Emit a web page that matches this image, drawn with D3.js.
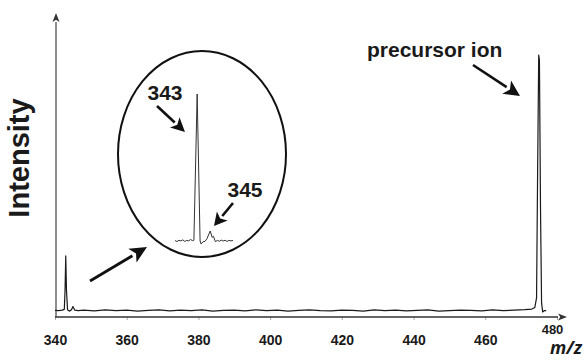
<!DOCTYPE html>
<html>
<head>
<meta charset="utf-8">
<script src="https://cdn.jsdelivr.net/npm/d3@7"></script>
<style>
  body { margin: 0; background: #fff; }
  svg { display: block; }
</style>
</head>
<body>
<div id="chart"></div>
<script>
var svgWidth = 586;
var svgHeight = 360;

// main spectrum (relative intensity, precursor = 100)
var mainMz = [340.0, 341.0, 342.0, 342.6, 342.8, 343.0, 343.2, 343.5, 344.0, 344.6, 345.0, 345.5, 346.5,
  348, 351, 354, 357, 360, 363, 366, 369, 372, 375, 378, 381, 384, 387, 390, 393, 396, 399,
  402, 405, 408, 411, 414, 417, 420, 423, 426, 429, 432, 435, 438, 441, 444, 447, 450, 453,
  456, 459, 462, 465, 468, 471, 473.0, 473.8, 474.3, 474.6, 474.9, 475.1, 475.4, 475.7, 476.0, 476.5, 477.0];
var mainInt = [0.1, 0.0, 0.2, 0.5, 8, 21.4, 8, 0.3, -0.2, 0.3, 1.6, 0.2, 0.0,
  0.2, -0.1, 0.3, 0.0, 0.2, -0.2, 0.1, 0.3, -0.1, 0.2, 0.0, 0.3, -0.2, 0.1, 0.2, -0.1, 0.3, 0.0,
  0.2, -0.2, 0.1, 0.3, 0.0, -0.1, 0.2, 0.1, -0.2, 0.3, 0.0, 0.2, -0.1, 0.1, 0.3, -0.2, 0.0, 0.2,
  0.1, -0.1, 0.3, 0.0, 0.2, 0.4, 0.6, 1.2, 5, 55, 100, 98, 40, 3, -0.5, 0.0, 0.0];

// zoomed inset around 343 / 345
var insetMz = [339.6, 339.9, 340.2, 340.5, 340.8, 341.1, 341.4, 341.7, 342.0, 342.3, 342.5, 343.0, 343.45,
  343.6, 343.9, 344.2, 344.5, 345.0, 345.3, 345.5, 345.8, 346.1, 346.4, 346.7, 347.0, 347.3, 347.6, 347.9, 348.2, 348.5];
var insetInt = [0.3, -0.4, 0.5, 0.0, 0.8, -0.3, 0.4, 0.1, 1.0, 0.2, 0.5, 100, 0.0,
  -2.0, -0.5, -0.3, 1.5, 6.8, 2.5, 3.2, -0.5, 0.4, -0.2, 0.6, 0.0, 0.5, -0.3, 0.4, 0.1, 0.3];

var tickVals = [340, 360, 380, 400, 420, 440, 460, 480];

var mainData = mainMz.map((m, i) => ({mz: m, v: mainInt[i]}));
var insetData = insetMz.map((m, i) => ({mz: m, v: insetInt[i]}));

var svg = d3.select("#chart")
  .append("svg")
  .attr("width", svgWidth)
  .attr("height", svgHeight);

var x = d3.scaleLinear().domain([340, 480]).range([55, 557]);
var y = d3.scaleLinear().domain([-2.5, 100]).range([317, 55]);

// axes
var xAxis = svg.append("g")
  .attr("transform", `translate(0, ${y.range()[0]})`)
  .call(d3.axisBottom(x).tickValues(tickVals).tickSize(3).tickPadding(15).tickFormat(d3.format("d")));
xAxis.select(".domain").remove();
xAxis.selectAll(".tick line").attr("stroke", "#aaa");
xAxis.selectAll(".tick text")
  .style("font", "bold 14px 'Liberation Sans', Arial, sans-serif")
  .attr("fill", "#1a1a1a");
xAxis.selectAll(".tick text").filter(d => d === 480)
  .style("font-size", "13px")
  .attr("dx", -5).attr("dy", "-0.05em");

function arrow(x1, y1, x2, y2, len, half, sw, col) {
  var a = Math.atan2(y2 - y1, x2 - x1);
  var bx = x2 - len * Math.cos(a), by = y2 - len * Math.sin(a);
  svg.append("line")
    .attr("x1", x1).attr("y1", y1).attr("x2", bx).attr("y2", by)
    .attr("stroke", col).attr("stroke-width", sw);
  var px = -Math.sin(a) * half, py = Math.cos(a) * half;
  svg.append("path")
    .attr("d", `M${x2},${y2}L${bx + px},${by + py}L${bx + len * 0.25 * Math.cos(a)},${by + len * 0.25 * Math.sin(a)}L${bx - px},${by - py}Z`)
    .attr("fill", col);
}

// axis lines with arrow heads
arrow(x.range()[0], y.range()[0], 567, y.range()[0], 9, 3.5, 1.4, "#333");
arrow(x.range()[0] + 1, y.range()[0], x.range()[0] + 1, 13, 9, 3.5, 1.1, "#333");

svg.append("text")
  .attr("transform", "translate(29, 158) rotate(-90)")
  .attr("text-anchor", "middle")
  .style("font", "bold 29px 'Liberation Sans', Arial, sans-serif")
  .attr("fill", "#1a1a1a")
  .text("Intensity");

svg.append("text")
  .attr("x", 566).attr("y", 354)
  .attr("text-anchor", "middle")
  .style("font", "italic bold 18px 'Open Sans', sans-serif")
  .attr("fill", "#1a1a1a")
  .text("m/z");

// spectrum
var line = d3.line().x(d => x(d.mz)).y(d => y(d.v));
svg.append("path")
  .datum(mainData)
  .attr("d", line)
  .attr("fill", "none")
  .attr("stroke", "#1a1a1a")
  .attr("stroke-width", 1.2)
  .attr("stroke-linejoin", "round");

// inset
svg.append("ellipse")
  .attr("cx", 202).attr("cy", 154).attr("rx", 84).attr("ry", 103)
  .attr("fill", "none").attr("stroke", "#111").attr("stroke-width", 2);

var xi = d3.scaleLinear().domain([339.6, 348.5]).range([175, 233]);
var yi = d3.scaleLinear().domain([0, 100]).range([241, 94]);
svg.append("path")
  .datum(insetData)
  .attr("d", d3.line().x(d => xi(d.mz)).y(d => yi(d.v)))
  .attr("fill", "none")
  .attr("stroke", "#333")
  .attr("stroke-width", 1)
  .attr("stroke-linejoin", "round");

var labelFont = "bold 21px 'Liberation Sans', Arial, sans-serif";
svg.append("text").attr("x", 165).attr("y", 100).attr("text-anchor", "middle")
  .style("font", labelFont).attr("fill", "#1a1a1a").text("343");
svg.append("text").attr("x", 245).attr("y", 197).attr("text-anchor", "middle")
  .style("font", labelFont).attr("fill", "#1a1a1a").text("345");
svg.append("text").attr("x", 367).attr("y", 57)
  .style("font", labelFont).attr("fill", "#1a1a1a").text("precursor ion");

// annotation arrows
arrow(157, 106, 185, 132, 14, 7, 2.6, "#111");
arrow(233, 203, 214, 226, 13, 7, 2.6, "#111");
arrow(90, 281, 147, 247, 17, 8, 2.8, "#111");
arrow(473, 65, 520, 96, 16, 8, 2.6, "#111");
</script>
</body>
</html>
